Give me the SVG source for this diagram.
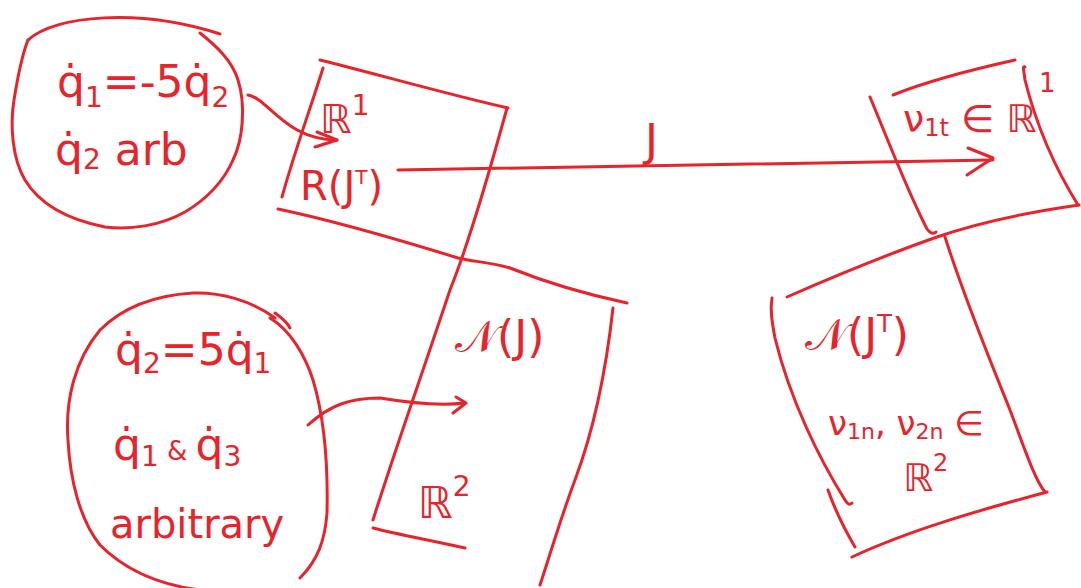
<svg xmlns="http://www.w3.org/2000/svg" width="1081" height="588" viewBox="0 0 1081 588">
<style>
.s{fill:none;stroke:#e8232b;stroke-width:3;stroke-linecap:round;stroke-linejoin:round}
.t{fill:#e8232b;font-family:"DejaVu Sans","Noto Sans",sans-serif;font-size:44px}
.sub{font-size:28px}
</style>
<rect width="1081" height="588" fill="#fff"/>
<g id="circle-top">
<path class="s" d="M28,40 C55,15 140,8 220,34"/>
<path class="s" d="M200,33 C215,45 232,60 238,80 C246,105 243,140 233,160 C222,185 205,200 185,212 C160,226 130,230 105,227 C70,220 40,205 25,180 C12,158 10,125 14,100 C18,75 22,55 28,40"/>
<text class="t" x="57" y="97">q̇<tspan class="sub" dy="10">1</tspan><tspan dy="-10">=-5q̇</tspan><tspan class="sub" dy="10">2</tspan></text>
<text class="t" x="55" y="165">q̇<tspan class="sub" dy="4">2</tspan><tspan dy="-4"> arb</tspan></text>
</g>
<g id="box-range">
<path class="s" d="M320,60 C380,75 450,95 508,108"/>
<path class="s" d="M323,68 C310,110 295,150 282,197"/>
<path class="s" d="M278,209 C330,220 400,240 458,258 C475,262 490,262 510,268 C540,280 580,293 627,303"/>
<text class="t" x="320" y="133" style="font-size:40px">ℝ<tspan class="sub" dy="-18">1</tspan></text>
<text class="t" x="300" y="200" style="font-size:40px">R(J<tspan class="sub" dy="-16" style="font-size:20px">T</tspan><tspan dy="16">)</tspan></text>
</g>
<g id="box-null-J">
<path class="s" d="M507,108 C490,170 470,240 450,290 C420,380 395,450 373,520"/>
<path class="s" d="M613,308 C605,380 590,440 575,480 C560,520 550,555 540,585"/>
<path class="s" d="M373,528 C400,535 430,540 465,548"/>
<text class="t" x="455" y="352">𝒩(J)</text>
<text class="t" x="418" y="518">ℝ<tspan class="sub" dy="-22">2</tspan></text>
</g>
<g id="box-vt">
<path class="s" d="M893,95 C930,80 970,70 1015,60"/>
<path class="s" d="M870,97 C890,145 905,185 925,225 C928,232 932,235 936,232"/>
<path class="s" d="M1025,67 C1022,66 1024,70 1025,80 C1035,120 1050,160 1078,205"/>
<path class="s" d="M1079,205 C1030,212 980,222 937,237 C900,250 860,265 787,297"/>
<text class="t" x="903" y="132" style="font-size:38px">ν<tspan class="sub" dy="4" style="font-size:24px">1t</tspan><tspan dy="-4"> ∈ ℝ</tspan></text>
<text class="t" x="1039" y="92" style="font-size:26px">1</text>
</g>
<g id="box-null-JT">
<path class="s" d="M772,298 C770,310 772,322 775,338 C790,400 820,460 845,500 C848,505 850,505 852,503"/>
<path class="s" d="M828,490 C835,510 845,530 855,547"/>
<path class="s" d="M945,237 C965,300 990,360 1010,410 C1025,450 1035,480 1045,492"/>
<path class="s" d="M1047,492 C980,510 910,530 852,557"/>
<text class="t" x="805" y="350">𝒩(J<tspan class="sub" dy="-18" style="font-size:24px">T</tspan><tspan dy="18">)</tspan></text>
<text class="t" x="828" y="435" style="font-size:34px">ν<tspan class="sub" dy="4" style="font-size:22px">1n</tspan><tspan dy="-4">, ν</tspan><tspan class="sub" dy="4" style="font-size:22px">2n</tspan><tspan dy="-4"> ∈</tspan></text>
<text class="t" x="903" y="491" style="font-size:38px">ℝ<tspan class="sub" dy="-20" style="font-size:24px">2</tspan></text>
</g>
<g id="circle-bottom">
<path class="s" d="M275,313 C282,318 287,322 290,328"/>
<path class="s" d="M275,318 C250,300 220,292 193,293 C160,295 125,305 100,330 C75,360 65,400 68,440 C70,480 80,520 100,545 C125,570 160,585 200,590"/>
<path class="s" d="M270,318 C290,330 305,355 313,380 C325,420 328,470 327,513 C325,540 318,560 300,578"/>
<text class="t" x="115" y="365">q̇<tspan class="sub" dy="8">2</tspan><tspan dy="-8">=5q̇</tspan><tspan class="sub" dy="8">1</tspan></text>
<text class="t" x="113" y="460">q̇<tspan class="sub" dy="6">1</tspan><tspan dy="-6" style="font-size:26px"> &amp; </tspan><tspan>q̇</tspan><tspan class="sub" dy="6">3</tspan></text>
<text class="t" x="110" y="538" style="font-size:40px">arbitrary</text>
</g>
<g id="connectors">
<path class="s" d="M248,95 C268,98 285,140 337,140"/>
<path class="s" d="M317,132 L337,140 L315,147"/>
<path class="s" d="M398,170 C600,168 800,162 993,160"/>
<path class="s" d="M968,148 L993,158 L967,175"/>
<text class="t" x="645" y="156">J</text>
<path class="s" d="M308,425 C330,405 350,398 380,398 C410,403 440,406 465,403"/>
<path class="s" d="M456,397 L466,403 L453,413"/>
</g>
</svg>
